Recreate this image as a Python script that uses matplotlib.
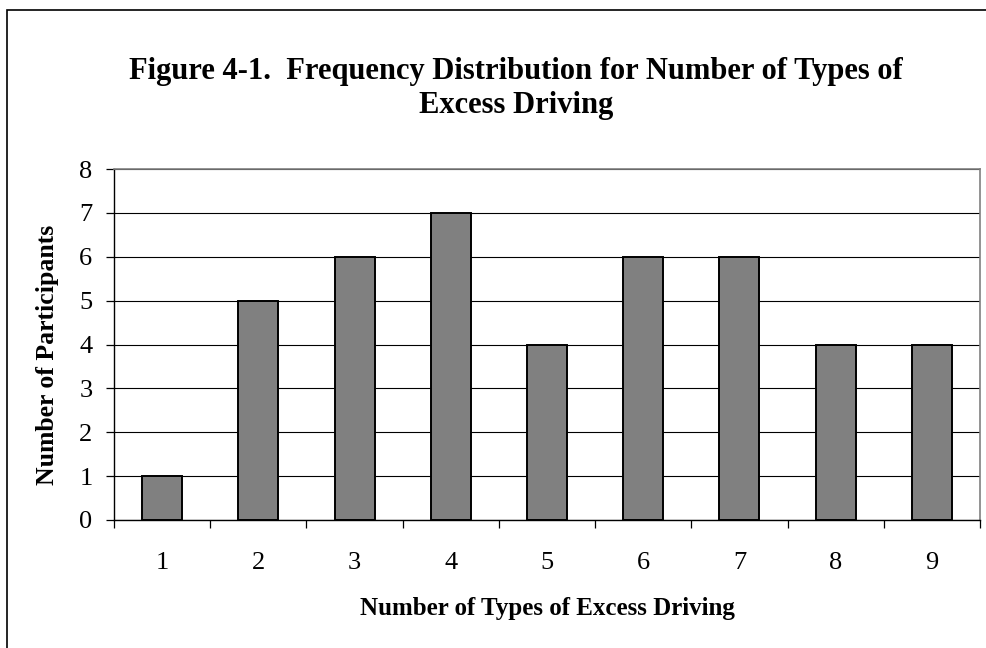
import numpy as np
import matplotlib.pyplot as plt
from matplotlib.patches import Rectangle

# dados
types = [1, 2, 3, 4, 5, 6, 7, 8, 9]
participants = [1, 5, 6, 7, 4, 6, 6, 4, 4]

plt.rcParams['font.family'] = ['Liberation Serif', 'DejaVu Serif']

fig = plt.figure(figsize=(9.87, 6.48), dpi=100)
ax = fig.add_axes([114/987, 1 - 520/648, (980 - 114)/987, (520 - 169)/648])

x = np.arange(len(types)) + 1
ax.bar(x, participants, width=0.415, color='#808080', edgecolor='black', linewidth=1.4, zorder=3)

ax.set_xlim(0.5, len(types) + 0.5)
ax.set_ylim(0, 8)
ax.set_yticks(range(0, 9))
ax.yaxis.grid(True, color='black', linewidth=0.8, zorder=0)

# ticks entre as categorias, rotulos no centro
ax.set_xticks(np.arange(0.5, len(types) + 1, 1.0))
ax.set_xticklabels([])
ax.set_xticks(x, minor=True)
ax.set_xticklabels([str(t) for t in types], minor=True)
ax.tick_params(axis='x', which='major', direction='out', length=6, width=0.9)
ax.tick_params(axis='x', which='minor', length=0, pad=23, labelsize=19)
ax.tick_params(axis='y', direction='out', length=5.5, width=0.9, pad=10, labelsize=19)

for s in ['top', 'right']:
    ax.spines[s].set_color('#808080')
    ax.spines[s].set_linewidth(1.2)
for s in ['left', 'bottom']:
    ax.spines[s].set_color('black')
    ax.spines[s].set_linewidth(1.0)

fig.text(0.523, 1 - 72/648, 'Figure 4-1.  Frequency Distribution for Number of Types of',
         ha='center', va='center', fontsize=22, fontweight='bold')
fig.text(0.523, 1 - 105/648, 'Excess Driving',
         ha='center', va='center', fontsize=22, fontweight='bold')
fig.text(547/987, 1 - 608/648, 'Number of Types of Excess Driving',
         ha='center', va='center', fontsize=18, fontweight='bold')
fig.text(48/987, 1 - 355/648, 'Number of Participants', rotation=90,
         ha='center', va='center', fontsize=18.5, fontweight='bold')

# moldura externa
fig.patches.append(Rectangle((7/987, -0.1), 1.2, 1.1 - 10/648, transform=fig.transFigure,
                             fill=False, edgecolor='black', linewidth=1.2))

fig.savefig('out.png', dpi=100)
